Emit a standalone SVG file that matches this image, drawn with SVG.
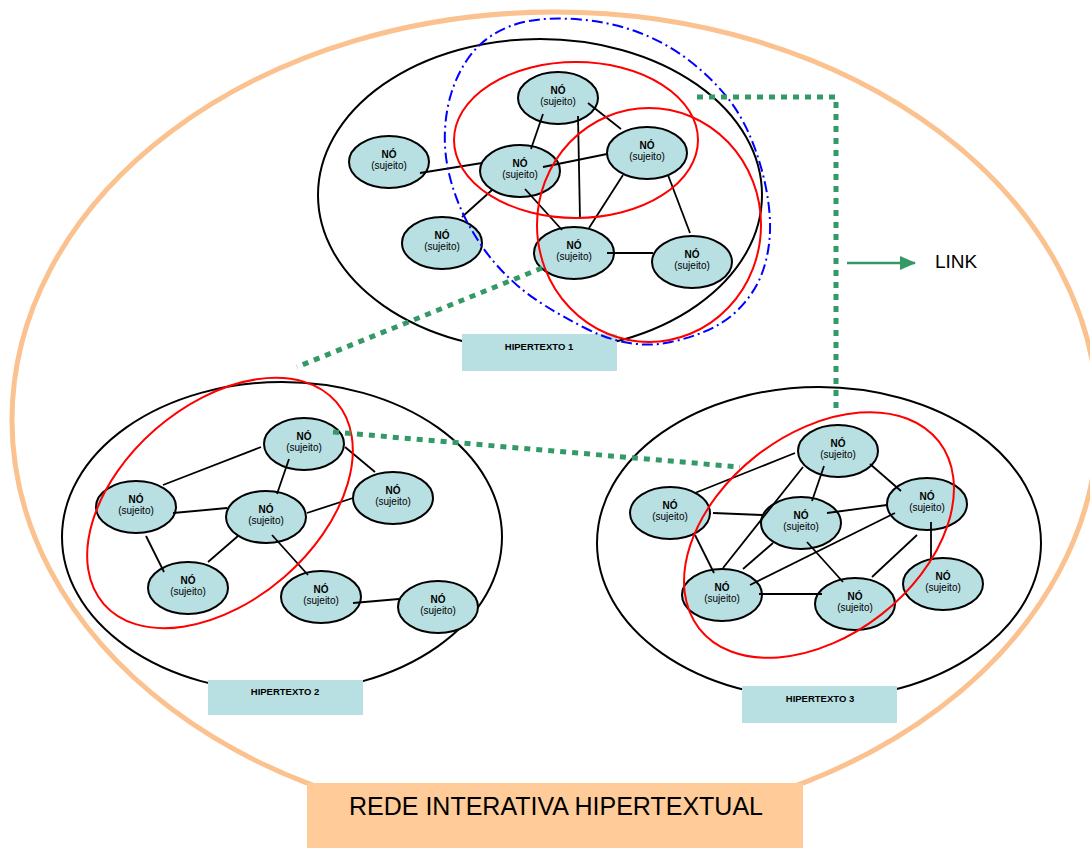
<svg xmlns="http://www.w3.org/2000/svg" width="1090" height="848" viewBox="0 0 1090 848">
<style>
.hyper{fill:none;stroke:#000;stroke-width:2}
.node{fill:#b8dfe2;stroke:#000;stroke-width:2}
.nt{font-family:"Liberation Sans",Arial,sans-serif;font-size:10px;font-weight:bold;text-anchor:middle;fill:#000}
.ns{font-family:"Liberation Sans",Arial,sans-serif;font-size:10px;text-anchor:middle;fill:#000}
.lbl{fill:#b8dfe2}
.lt{font-family:"Liberation Sans",Arial,sans-serif;font-size:9.5px;font-weight:bold;text-anchor:middle;fill:#000}
.edge{stroke:#000;stroke-width:1.8;fill:none}
.red{fill:none;stroke:#ff0000;stroke-width:2}
.link{fill:none;stroke:#339966;stroke-width:5;stroke-dasharray:6 6}
</style>
<defs>
<marker id="arr" markerWidth="16" markerHeight="14" refX="15" refY="7" orient="auto" markerUnits="userSpaceOnUse">
<path d="M0,0 L16,7 L0,14 Z" fill="#339966"/>
</marker>
</defs>
<rect width="1090" height="848" fill="#fff"/>
<g id="rede">
<ellipse cx="555" cy="420" rx="543" ry="408" fill="none" stroke="#fbc28f" stroke-width="5"/>
<rect x="307" y="783" width="496" height="70" fill="#ffcc99"/>
<text x="556" y="815" font-family="'Liberation Sans',Arial,sans-serif" font-size="25" text-anchor="middle" fill="#000">REDE INTERATIVA HIPERTEXTUAL</text>
</g>
<g id="hipertexto1">
<ellipse class="hyper" cx="540" cy="195" rx="222" ry="156"/>
<rect class="lbl" x="462" y="334" width="155" height="37"/>
<text class="lt" x="539" y="350">HIPERTEXTO 1</text>
</g>
<g id="hipertexto2">
<ellipse class="hyper" cx="282" cy="537" rx="220" ry="155"/>
<rect class="lbl" x="208" y="680" width="155" height="35"/>
<text class="lt" x="285" y="695">HIPERTEXTO 2</text>
</g>
<g id="hipertexto3">
<ellipse class="hyper" cx="819" cy="543" rx="222" ry="156"/>
<rect class="lbl" x="742" y="686" width="155" height="37"/>
<text class="lt" x="820" y="702">HIPERTEXTO 3</text>
</g>
<g id="h1-n1"><ellipse class="node" cx="558" cy="98" rx="40" ry="26"/><text class="nt" x="558" y="94">NÓ</text><text class="ns" x="558" y="105">(sujeito)</text></g>
<g id="h1-n2"><ellipse class="node" cx="647" cy="153" rx="40" ry="26"/><text class="nt" x="647" y="149">NÓ</text><text class="ns" x="647" y="160">(sujeito)</text></g>
<g id="h1-n3"><ellipse class="node" cx="389" cy="162" rx="40" ry="26"/><text class="nt" x="389" y="158">NÓ</text><text class="ns" x="389" y="169">(sujeito)</text></g>
<g id="h1-n4"><ellipse class="node" cx="520" cy="171" rx="40" ry="26"/><text class="nt" x="520" y="167">NÓ</text><text class="ns" x="520" y="178">(sujeito)</text></g>
<g id="h1-n5"><ellipse class="node" cx="442" cy="243" rx="40" ry="26"/><text class="nt" x="442" y="239">NÓ</text><text class="ns" x="442" y="250">(sujeito)</text></g>
<g id="h1-n6"><ellipse class="node" cx="574" cy="253" rx="40" ry="26"/><text class="nt" x="574" y="249">NÓ</text><text class="ns" x="574" y="260">(sujeito)</text></g>
<g id="h1-n7"><ellipse class="node" cx="692" cy="262" rx="40" ry="26"/><text class="nt" x="692" y="258">NÓ</text><text class="ns" x="692" y="269">(sujeito)</text></g>
<g id="h2-n1"><ellipse class="node" cx="304" cy="444" rx="40" ry="26"/><text class="nt" x="304" y="440">NÓ</text><text class="ns" x="304" y="451">(sujeito)</text></g>
<g id="h2-n2"><ellipse class="node" cx="136" cy="507" rx="40" ry="26"/><text class="nt" x="136" y="503">NÓ</text><text class="ns" x="136" y="514">(sujeito)</text></g>
<g id="h2-n3"><ellipse class="node" cx="266" cy="517" rx="40" ry="26"/><text class="nt" x="266" y="513">NÓ</text><text class="ns" x="266" y="524">(sujeito)</text></g>
<g id="h2-n4"><ellipse class="node" cx="393" cy="498" rx="40" ry="26"/><text class="nt" x="393" y="494">NÓ</text><text class="ns" x="393" y="505">(sujeito)</text></g>
<g id="h2-n5"><ellipse class="node" cx="188" cy="588" rx="40" ry="26"/><text class="nt" x="188" y="584">NÓ</text><text class="ns" x="188" y="595">(sujeito)</text></g>
<g id="h2-n6"><ellipse class="node" cx="321" cy="597" rx="40" ry="26"/><text class="nt" x="321" y="593">NÓ</text><text class="ns" x="321" y="604">(sujeito)</text></g>
<g id="h2-n7"><ellipse class="node" cx="438" cy="607" rx="40" ry="26"/><text class="nt" x="438" y="603">NÓ</text><text class="ns" x="438" y="614">(sujeito)</text></g>
<g id="h3-n1"><ellipse class="node" cx="838" cy="451" rx="40" ry="26"/><text class="nt" x="838" y="447">NÓ</text><text class="ns" x="838" y="458">(sujeito)</text></g>
<g id="h3-n2"><ellipse class="node" cx="670" cy="513" rx="40" ry="26"/><text class="nt" x="670" y="509">NÓ</text><text class="ns" x="670" y="520">(sujeito)</text></g>
<g id="h3-n3"><ellipse class="node" cx="801" cy="523" rx="40" ry="26"/><text class="nt" x="801" y="519">NÓ</text><text class="ns" x="801" y="530">(sujeito)</text></g>
<g id="h3-n4"><ellipse class="node" cx="927" cy="504" rx="40" ry="26"/><text class="nt" x="927" y="500">NÓ</text><text class="ns" x="927" y="511">(sujeito)</text></g>
<g id="h3-n5"><ellipse class="node" cx="722" cy="595" rx="40" ry="26"/><text class="nt" x="722" y="591">NÓ</text><text class="ns" x="722" y="602">(sujeito)</text></g>
<g id="h3-n6"><ellipse class="node" cx="855" cy="604" rx="40" ry="26"/><text class="nt" x="855" y="600">NÓ</text><text class="ns" x="855" y="611">(sujeito)</text></g>
<g id="h3-n7"><ellipse class="node" cx="943" cy="584" rx="40" ry="26"/><text class="nt" x="943" y="580">NÓ</text><text class="ns" x="943" y="591">(sujeito)</text></g>
<g id="connectors">
<g class="edge">
<line x1="543" y1="114" x2="531" y2="149"/>
<line x1="588" y1="103" x2="621" y2="129"/>
<line x1="578" y1="116" x2="580" y2="219"/>
<line x1="420" y1="173" x2="482" y2="163"/>
<line x1="543" y1="167" x2="607" y2="154"/>
<line x1="492" y1="190" x2="462" y2="217"/>
<line x1="525" y1="189" x2="562" y2="230"/>
<line x1="623" y1="175" x2="589" y2="228"/>
<line x1="668" y1="175" x2="690" y2="233"/>
<line x1="607" y1="253" x2="653" y2="253"/>
<line x1="163" y1="485" x2="261" y2="447"/>
<line x1="289" y1="459" x2="277" y2="494"/>
<line x1="345" y1="447" x2="375" y2="472"/>
<line x1="173" y1="513" x2="227" y2="508"/>
<line x1="307" y1="513" x2="353" y2="498"/>
<line x1="146" y1="536" x2="164" y2="572"/>
<line x1="238" y1="536" x2="208" y2="562"/>
<line x1="272" y1="535" x2="308" y2="575"/>
<line x1="353" y1="603" x2="399" y2="599"/>
<line x1="695" y1="493" x2="795" y2="453"/>
<line x1="824" y1="466" x2="812" y2="501"/>
<line x1="870" y1="464" x2="901" y2="491"/>
<line x1="803" y1="467" x2="723" y2="568"/>
<line x1="713" y1="513" x2="762" y2="515"/>
<line x1="827" y1="513" x2="887" y2="505"/>
<line x1="695" y1="535" x2="714" y2="573"/>
<line x1="773" y1="543" x2="743" y2="569"/>
<line x1="807" y1="542" x2="843" y2="582"/>
<line x1="895" y1="513" x2="750" y2="585"/>
<line x1="759" y1="594" x2="822" y2="594"/>
<line x1="917" y1="535" x2="872" y2="577"/>
<line x1="931" y1="522" x2="931" y2="559"/>
</g>
<g id="red-groups">
<ellipse class="red" cx="576" cy="140" rx="122" ry="78"/>
<ellipse class="red" cx="649" cy="225" rx="112" ry="117"/>
<ellipse class="red" cx="220" cy="503" rx="154" ry="98" transform="rotate(-41 220 503)"/>
<ellipse class="red" cx="819" cy="535" rx="152" ry="101" transform="rotate(-38 819 535)"/>
</g>
<path id="blue-group" d="M529,21 Q550,17 580,19.5 Q610,22 637.5,32 Q665,42 688.5,60 Q712,78 728.5,99 Q745,120 756,151.5 Q767,183 769.5,213 Q772,243 763.5,269 Q755,295 733.5,314 Q712,333 671,342 Q630,351 585,328 Q540,305 518.5,286.5 Q497,268 482.5,247 Q468,226 460,207 Q452,188 448,169 Q444,150 445,130 Q446,110 451.5,92.5 Q457,75 467,60 Q477,45 492.5,35 Q508,25 529,21 Z" fill="none" stroke="#0000ff" stroke-width="2" stroke-dasharray="11 4 2 4"/>
<g id="links">
<path class="link" d="M542,268 L297,367"/>
<path class="link" d="M697,97 L836,97 L836,408"/>
<path class="link" d="M333,432 L740,467"/>
</g>
</g>
<g id="legend">
<line x1="847" y1="263" x2="915" y2="263" stroke="#339966" stroke-width="2.5" marker-end="url(#arr)"/>
<text x="935" y="268" font-family="'Liberation Sans',Arial,sans-serif" font-size="19" fill="#000">LINK</text>
</g>
</svg>
